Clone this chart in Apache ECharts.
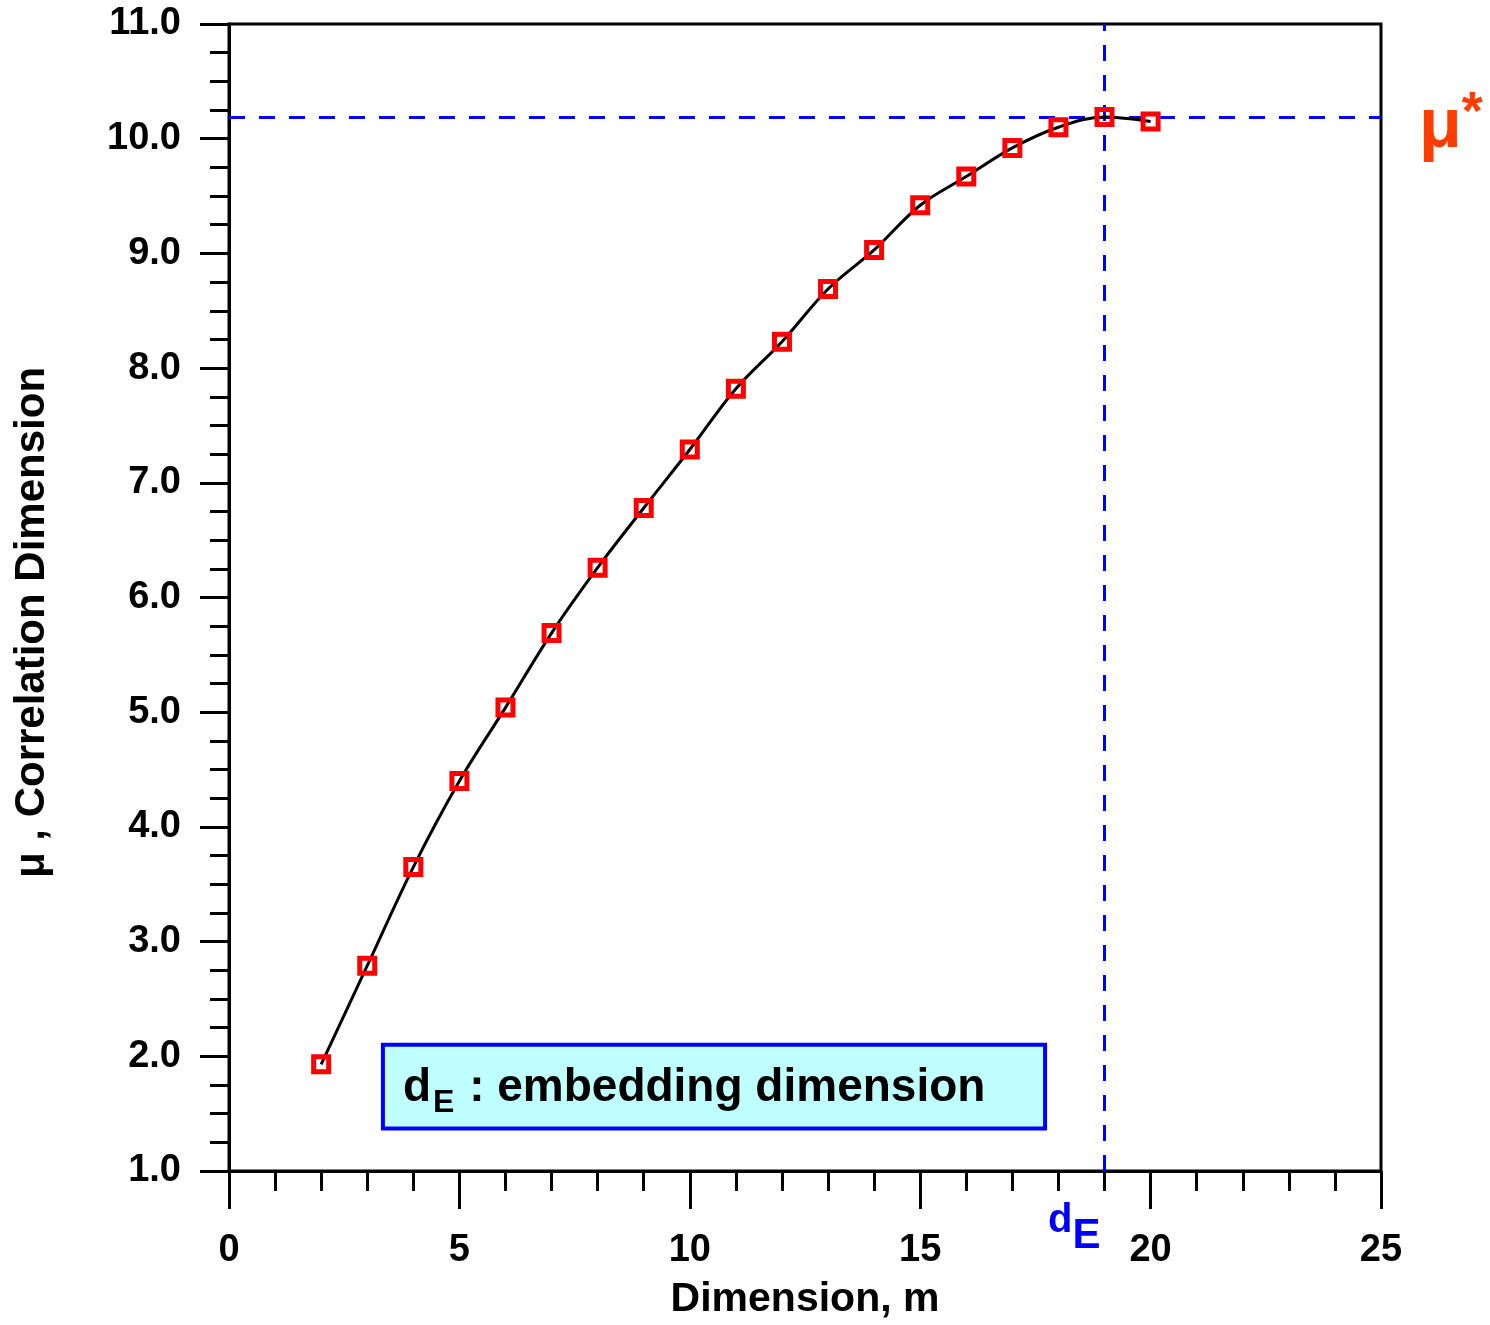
<!DOCTYPE html>
<html>
<head>
<meta charset="utf-8">
<script src="https://cdn.jsdelivr.net/npm/echarts@6/dist/echarts.min.js"></script>
<style>
html,body{margin:0;padding:0;background:#fff;}
#chart{width:1490px;height:1325px;}
</style>
</head>
<body>
<div id="chart"></div>
<script>
// Data
const dimensions = [2, 3, 4, 5, 6, 7, 8, 9, 10, 11, 12, 13, 14, 15, 16, 17, 18, 19, 20];
const corrDim = [1.93, 2.79, 3.65, 4.40, 5.04, 5.69, 6.26, 6.78, 7.29, 7.82, 8.23, 8.69, 9.03, 9.42, 9.67, 9.92, 10.10, 10.19, 10.15];
const embeddingDim = 19;
const muStar = 10.19;
const xTicks = [0, 5, 10, 15, 20, 25];
const yTicks = [1, 2, 3, 4, 5, 6, 7, 8, 9, 10, 11];

const FONT = '"Liberation Sans", Arial, Helvetica, sans-serif';
const chart = echarts.init(document.getElementById('chart'), null, {renderer: 'canvas'});

const points = dimensions.map((d, i) => [d, corrDim[i]]);

chart.setOption({
  animation: false,
  backgroundColor: '#ffffff',
  grid: {left: 229, right: 109, top: 24, bottom: 151, show: true, borderColor: '#000', borderWidth: 3, backgroundColor: 'transparent'},
  xAxis: {
    type: 'value', min: xTicks[0], max: xTicks[xTicks.length - 1], interval: 5,
    name: 'Dimension, m', nameLocation: 'middle', nameGap: 108,
    nameTextStyle: {fontFamily: FONT, fontWeight: 'bold', fontSize: 41, color: '#000'},
    axisLine: {show: true, lineStyle: {color: '#000', width: 3}},
    axisTick: {show: true, inside: false, length: 38, lineStyle: {color: '#000', width: 3}},
    minorTick: {show: true, splitNumber: 5, length: 20, lineStyle: {color: '#000', width: 3}},
    splitLine: {show: false},
    axisLabel: {margin: 61, fontFamily: FONT, fontWeight: 'bold', fontSize: 38, color: '#000'}
  },
  yAxis: {
    type: 'value', min: yTicks[0], max: yTicks[yTicks.length - 1], interval: 1,
    name: 'μ , Correlation Dimension', nameLocation: 'middle', nameGap: 176,
    nameTextStyle: {fontFamily: FONT, fontWeight: 'bold', fontSize: 42, color: '#000', padding: [0, 50, 0, 0]},
    axisLine: {show: true, lineStyle: {color: '#000', width: 3}},
    axisTick: {show: true, inside: false, length: 29, lineStyle: {color: '#000', width: 3}},
    minorTick: {show: true, splitNumber: 4, length: 19, lineStyle: {color: '#000', width: 3}},
    splitLine: {show: false},
    axisLabel: {margin: 48, fontFamily: FONT, fontWeight: 'bold', fontSize: 38, color: '#000',
      formatter: v => v.toFixed(1)}
  },
  series: [{
    type: 'line',
    data: points,
    smooth: 0.35,
    lineStyle: {color: '#000', width: 3},
    symbol: 'rect',
    symbolSize: 15,
    itemStyle: {color: 'rgba(255,255,255,0)', borderColor: '#ff0000', borderWidth: 5},
    z: 5,
    markLine: {
      silent: true,
      symbol: 'none',
      label: {show: false},
      lineStyle: {color: '#0000ff', width: 3, type: [16, 14]},
      data: [{yAxis: muStar}, {xAxis: embeddingDim}]
    }
  }]
});

// Annotations placed via the chart's own coordinate conversion
const toPx = (x, y) => chart.convertToPixel({gridIndex: 0}, [x, y]);
const boxTL = toPx(3.34, 2.10);
const boxBR = toPx(17.71, 1.37);
const dEpos = toPx(embeddingDim, 1);
const muPos = toPx(25, muStar);

chart.setOption({
  graphic: [
    {
      type: 'rect', z: 10,
      shape: {x: boxTL[0], y: boxTL[1], width: boxBR[0] - boxTL[0], height: boxBR[1] - boxTL[1]},
      style: {fill: '#c0ffff', stroke: '#0000ff', lineWidth: 4}
    },
    {
      type: 'text', z: 11,
      x: boxTL[0] + 20, y: (boxTL[1] + boxBR[1]) / 2 + 2,
      style: {
        text: '{b|d}{s|E}{b| : embedding dimension}',
        verticalAlign: 'middle', align: 'left',
        rich: {
          b: {fontFamily: FONT, fontWeight: 'bold', fontSize: 46, fill: '#000', lineHeight: 60, verticalAlign: 'middle'},
          s: {fontFamily: FONT, fontWeight: 'bold', fontSize: 32, fill: '#000', lineHeight: 60, verticalAlign: 'bottom', padding: [0, 2, 0, 2]}
        }
      }
    },
    {
      type: 'text', z: 11,
      x: dEpos[0] - 4, y: dEpos[1] + 30,
      style: {
        text: '{b|d}{s|E}',
        align: 'right', verticalAlign: 'top',
        rich: {
          b: {fontFamily: FONT, fontWeight: 'bold', fontSize: 40, fill: '#0000ff', lineHeight: 56, verticalAlign: 'top'},
          s: {fontFamily: FONT, fontWeight: 'bold', fontSize: 42, fill: '#0000ff', lineHeight: 56, verticalAlign: 'bottom'}
        }
      }
    },
    {
      type: 'text', z: 11,
      x: muPos[0] + 38, y: muPos[1] + 8,
      style: {
        text: '{m|μ}{st|*}',
        align: 'left', verticalAlign: 'middle',
        rich: {
          m: {fontFamily: FONT, fontWeight: 'bold', fontSize: 70, fill: '#ff3c00', lineHeight: 76, verticalAlign: 'bottom'},
          st: {fontFamily: FONT, fontWeight: 'bold', fontSize: 54, fill: '#ff3c00', lineHeight: 76, verticalAlign: 'top'}
        }
      }
    }
  ]
});
</script>
</body>
</html>
